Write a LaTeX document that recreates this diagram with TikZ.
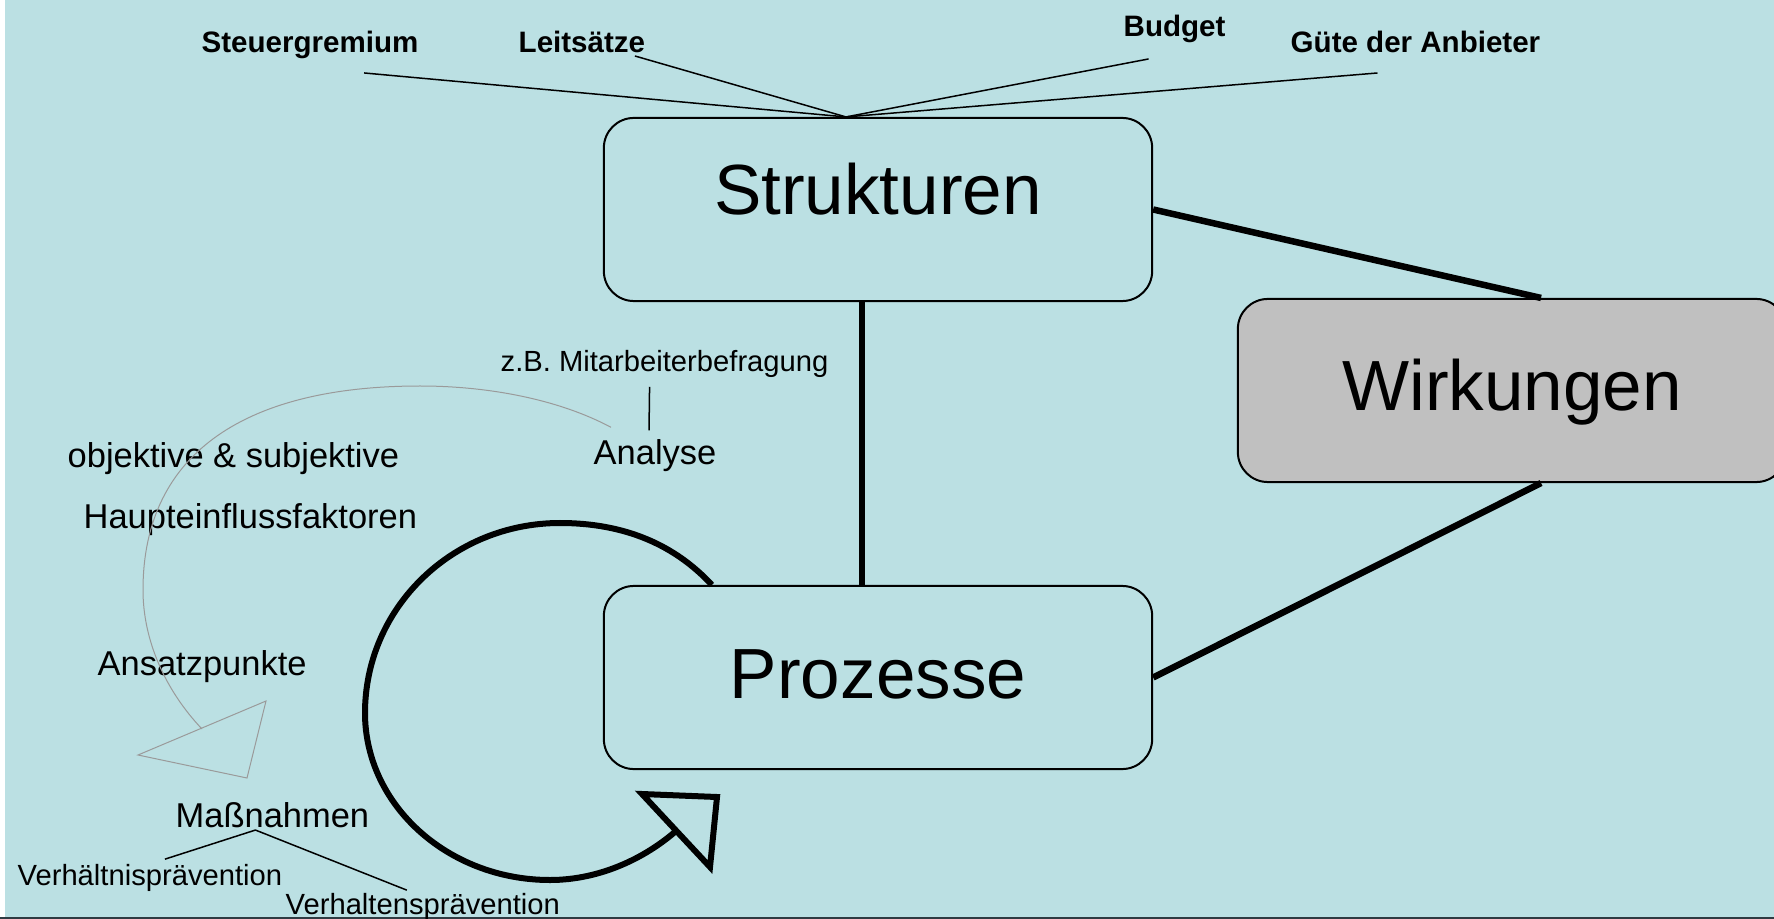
\documentclass[tikz,border=0pt]{standalone}
\usepackage{fontspec}
\setmainfont{Liberation Sans}
\definecolor{bgblue}{HTML}{BBE0E3}
\definecolor{wirkgray}{HTML}{C0C0C0}
\definecolor{arcgray}{HTML}{9A9A9A}
\definecolor{edgeline}{HTML}{2E3B42}

\begin{document}
\begin{tikzpicture}[x=0.01cm, y=-0.01cm,
  box/.style={draw, rectangle, rounded corners=0.3cm, line width=0.02cm, minimum width=5.48cm, minimum height=1.83cm, inner sep=0pt, font=\fontsize{20.2}{24}\selectfont},
  toplbl/.style={anchor=base west, inner sep=0pt, font=\fontsize{8.4}{10}\selectfont\bfseries},
  midlbl/.style={anchor=base west, inner sep=0pt, font=\fontsize{9.8}{12}\selectfont},
  smalllbl/.style={anchor=base west, inner sep=0pt, font=\fontsize{8.3}{10}\selectfont},
  fan/.style={line width=0.015cm},
  bond/.style={line width=0.065cm},
  loopline/.style={line width=0.06cm},
  grayline/.style={arcgray, line width=0.01cm}]
\useasboundingbox (0,0) rectangle (1774,919);
\fill[white] (0,0) rectangle (1774,919);
\fill[bgblue] (5,0) rectangle (1774,917);
\fill[edgeline] (0,917) rectangle (1774,919);

\node[box, text height=0.3cm, text depth=0.19cm] (struk) at (878,209.5) {Strukturen};
\node[box, text height=0.5cm, text depth=0.09cm] (proz) at (878,677.5) {Prozesse};
\node[box, fill=wirkgray, text height=0.5cm, text depth=0.11cm] (wirk) at (1512,390.5) {Wirkungen};

\draw[bond] (struk.east) -- ([xshift=0.29cm]wirk.north);
\draw[bond] (proz.east) -- ([xshift=0.29cm]wirk.south);
\draw[bond] ([xshift=-0.16cm]struk.south) -- ([xshift=-0.16cm]proz.north);

\coordinate (apex) at ([xshift=-0.32cm]struk.north);
\node[toplbl] (steuer) at (201,53) {Steuergremium};
\node[toplbl] (leit) at (518,53) {Leitsätze};
\node[toplbl] (budget) at (1123,37) {Budget};
\node[toplbl] (guete) at (1290,53) {Güte der Anbieter};
\draw[fan] ([shift={(54,13)}]steuer.south) -- (apex);
\draw[fan] ([shift={(53,2)}]leit.south) -- (apex);
\draw[fan] ([shift={(-26,15)}]budget.south) -- (apex);
\draw[fan] ([shift={(-38,19)}]guete.south) -- (apex);

\node[smalllbl] (zb) at (500,372) {z.B. Mitarbeiterbefragung};
\node[midlbl] (analyse) at (593,465) {Analyse};
\draw[fan] ([shift={(-6,-9)}]analyse.north) -- ([shift={(-15,8)}]zb.south);

\node[midlbl] (objsub) at (67,467) {objektive \& subjektive};
\node[midlbl] (haupt) at (83,528) {Haupteinflussfaktoren};
\node[midlbl] (ansatz) at (97,675) {Ansatzpunkte};
\node[midlbl] (massn) at (175,827) {Maßnahmen};
\node[smalllbl] (verhaeltnis) at (17,885) {Verhältnisprävention};
\node[smalllbl] (verhalten) at (285,914) {Verhaltensprävention};

\coordinate (mapex) at ([shift={(-17,2)}]massn.south);
\draw[fan] ([shift={(15,-4)}]verhaeltnis.north) -- (mapex) -- ([shift={(-16,-2)}]verhalten.north);

\draw[grayline] ([shift={(18,-12)}]analyse.north west) .. controls (560,400) and (490,386) .. (420,386) .. controls (250,386) and (143,450) .. (143,590) .. controls (143,640) and (165,690) .. (202,729);
\draw[grayline] (138,755) -- (266,701) -- (247,778) -- cycle;

\coordinate (cycstart) at ([xshift=-1.66cm]proz.north);
\draw[loopline] (cycstart) .. controls (675,545) and (625,523) .. (560,523) .. controls (452,523) and (365,608) .. (365,713) .. controls (365,805) and (448,880) .. (550,880) .. controls (600,880) and (645,858) .. (676,831);
\draw[loopline, line join=miter] (642,794) -- (717,797) -- (710,867) -- cycle;
\end{tikzpicture}
\end{document}
